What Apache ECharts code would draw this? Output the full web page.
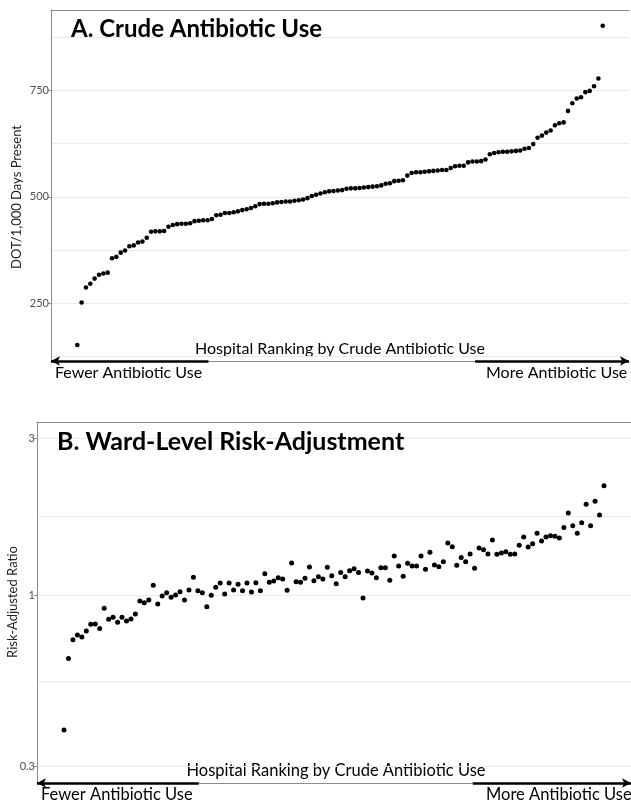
<!DOCTYPE html>
<html><head><meta charset="utf-8">
<script src="https://cdn.jsdelivr.net/npm/echarts@6/dist/echarts.min.js"></script>
<style>html,body{margin:0;padding:0;background:#fff}#c{width:631px;height:802px}</style>
</head><body><div id="c"></div>
<script>
// ---- Data ----
const crudeDOT = [152,252,287,296,308,317,320,322,356,359,369,374,384,386,393,395,404,418,419,419,
420,430,434,436,437,437,438,443,444,445,445,448,457,458,462,462,464,466,469,471,
474,478,483,484,484,485,487,488,489,489,491,492,494,497,502,505,508,511,513,514,
515,516,519,520,520,521,522,523,524,525,527,531,532,537,538,539,550,556,558,558,
559,560,561,562,563,563,568,572,573,573,581,583,583,584,588,600,603,605,606,606,
607,608,609,613,615,624,639,644,651,656,668,673,675,702,720,731,734,746,749,760,
778,902];
const riskRatio = [0.388,0.641,0.731,0.755,0.745,0.777,0.814,0.816,0.790,0.911,0.843,0.855,0.826,0.855,0.833,0.845,0.875,0.959,0.947,0.966,
1.070,0.939,0.993,1.016,0.984,1.000,1.023,0.966,1.036,1.132,1.031,1.016,0.921,0.998,1.055,1.088,1.007,1.088,1.036,1.078,
1.031,1.088,1.021,1.090,1.031,1.161,1.093,1.103,1.129,1.119,1.033,1.252,1.098,1.093,1.124,1.217,1.106,1.136,1.119,1.214,
1.145,1.083,1.170,1.137,1.186,1.203,1.170,0.979,1.183,1.167,1.129,1.211,1.211,1.109,1.315,1.225,1.140,1.249,1.225,1.225,
1.315,1.197,1.349,1.234,1.220,1.263,1.439,1.404,1.231,1.302,1.263,1.333,1.206,1.390,1.374,1.333,1.471,1.330,1.342,1.355,
1.330,1.333,1.417,1.502,1.400,1.433,1.541,1.460,1.502,1.516,1.509,1.491,1.607,1.777,1.626,1.541,1.661,1.889,1.626,1.929,
1.752,2.152];
const crudeTicks = [250, 500, 750];
const crudeGridLines = [125, 250, 375, 500, 625, 750, 875];
const ratioTicks = [0.3, 1, 3];
const ratioGridLines = [0.3, 0.5477, 1, 1.732, 3];

// ---- Axis ranges & annotation anchors (axis units) ----
const xMin = -5.05, xMax = 128.05;
const crudeMin = 114.5, crudeMax = 939;
const ratioMin = 0.2674, ratioMax = 3.366;
const arrowLeftEnd = 31.2, arrowRightStart = 92.6;

const FONT = 'Lato, "Liberation Sans", sans-serif';
const BORDER = '#8c8c8c';
const GRIDC = '#ebebeb';

const crudePts = crudeDOT.map((v, i) => [i + 1, v]);
const ratioPts = riskRatio.map((v, i) => [i + 1, v]);

function xAxes(grid) {
  return [
    {type:'value', gridIndex:grid, min:xMin, max:xMax, position:'bottom',
     axisLine:{show:true, onZero:false, lineStyle:{color:BORDER, width:1}},
     axisTick:{show:false}, axisLabel:{show:false}, splitLine:{show:false}},
    {type:'value', gridIndex:grid, min:xMin, max:xMax, position:'top',
     axisLine:{show:true, onZero:false, lineStyle:{color:BORDER, width:1}},
     axisTick:{show:false}, axisLabel:{show:false}, splitLine:{show:false}}
  ];
}
function arrows(yv) {
  return {
    silent:true, animation:false,
    lineStyle:{color:'#000', width:2.6, type:'solid'},
    label:{show:false}, emphasis:{disabled:true},
    symbolSize:[7, 9],
    data:[
      [{coord:[xMin, yv], symbol:'arrow'}, {coord:[arrowLeftEnd, yv], symbol:'none'}],
      [{coord:[arrowRightStart, yv], symbol:'none'}, {coord:[xMax, yv], symbol:'arrow'}]
    ]
  };
}

const chart = echarts.init(document.getElementById('c'));
chart.setOption({
  animation:false,
  backgroundColor:'#fff',
  grid:[
    {left:51, top:10, width:578, height:351},
    {left:37, top:422, width:596, height:361}
  ],
  xAxis:[...xAxes(0), ...xAxes(1)],
  yAxis:[
    {type:'value', gridIndex:0, min:crudeMin, max:crudeMax, position:'left',
     axisLine:{show:true, onZero:false, lineStyle:{color:BORDER}},
     axisTick:{show:true, length:3, lineStyle:{color:BORDER}, customValues:crudeTicks},
     axisLabel:{customValues:crudeTicks, fontSize:11, color:'#4d4d4d', margin:2, fontFamily:FONT},
     splitLine:{show:false}},
    {type:'value', gridIndex:0, min:crudeMin, max:crudeMax, position:'left',
     axisLine:{show:false, onZero:false}, axisTick:{show:false, customValues:crudeGridLines},
     axisLabel:{show:false}, splitLine:{show:true, lineStyle:{color:GRIDC, width:1}}},
    {type:'log', logBase:10, gridIndex:1, min:ratioMin, max:ratioMax, position:'left',
     axisLine:{show:true, onZero:false, lineStyle:{color:BORDER}},
     axisTick:{show:true, length:3, lineStyle:{color:BORDER}, customValues:ratioTicks},
     axisLabel:{customValues:ratioTicks, fontSize:11, color:'#4d4d4d', margin:2, fontFamily:FONT},
     splitLine:{show:false}, minorSplitLine:{show:false}},
    {type:'log', logBase:10, gridIndex:1, min:ratioMin, max:ratioMax, position:'left',
     axisLine:{show:false, onZero:false}, axisTick:{show:false, customValues:ratioGridLines},
     axisLabel:{show:false}, splitLine:{show:true, lineStyle:{color:GRIDC, width:1}}}
  ],
  series:[
    {type:'scatter', xAxisIndex:0, yAxisIndex:0, data:crudePts, symbolSize:4.6,
     itemStyle:{color:'#000', opacity:1}, silent:true, clip:false, markLine:arrows(crudeMin)},
    {type:'scatter', xAxisIndex:2, yAxisIndex:2, data:ratioPts, symbolSize:5,
     itemStyle:{color:'#000', opacity:1}, silent:true, clip:false, markLine:arrows(ratioMin)}
  ],
  graphic:[
    {type:'text', x:71, y:29, z:10, style:{text:'A. Crude Antibiotic Use', fontFamily:FONT, fontWeight:'bold', fontSize:24, fill:'#000', align:'left', verticalAlign:'middle'}},
    {type:'text', x:57, y:442, z:10, style:{text:'B. Ward-Level Risk-Adjustment', fontFamily:FONT, fontWeight:'bold', fontSize:25, fill:'#000', align:'left', verticalAlign:'middle'}},
    {type:'text', x:17, y:197, rotation:Math.PI/2, style:{text:'DOT/1,000 Days Present', fontFamily:FONT, fontSize:13, fill:'#222', align:'center', verticalAlign:'middle'}},
    {type:'text', x:13, y:602, rotation:Math.PI/2, style:{text:'Risk-Adjusted Ratio', fontFamily:FONT, fontSize:13, fill:'#222', align:'center', verticalAlign:'middle'}},
    {type:'text', x:340, y:349, style:{text:'Hospital Ranking by Crude Antibiotic Use', fontFamily:FONT, fontSize:16, fill:'#000', align:'center', verticalAlign:'middle'}},
    {type:'text', x:55, y:373, style:{text:'Fewer Antibiotic Use', fontFamily:FONT, fontSize:16, fill:'#000', align:'left', verticalAlign:'middle'}},
    {type:'text', x:486, y:373, style:{text:'More Antibiotic Use', fontFamily:FONT, fontSize:16, fill:'#000', align:'left', verticalAlign:'middle'}},
    {type:'text', x:336, y:771, style:{text:'Hospital Ranking by Crude Antibiotic Use', fontFamily:FONT, fontSize:16.5, fill:'#000', align:'center', verticalAlign:'middle'}},
    {type:'text', x:41, y:795, style:{text:'Fewer Antibiotic Use', fontFamily:FONT, fontSize:16.5, fill:'#000', align:'left', verticalAlign:'middle'}},
    {type:'text', x:486, y:795, style:{text:'More Antibiotic Use', fontFamily:FONT, fontSize:16.5, fill:'#000', align:'left', verticalAlign:'middle'}}
  ]
});
</script></body></html>
